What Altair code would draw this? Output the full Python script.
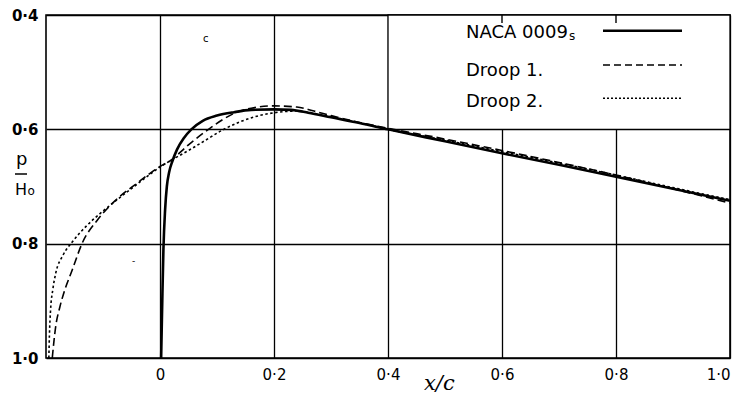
import altair as alt
import pandas as pd

# ---- data ----
naca_x = [0.002, 0.003, 0.004, 0.006, 0.009, 0.012, 0.016, 0.022, 0.030, 0.042, 0.055, 0.075,
          0.10, 0.13, 0.16, 0.20, 0.23, 0.26, 0.30, 0.35, 0.40, 0.50, 0.60, 0.70, 0.80, 0.90, 1.00]
naca_y = [1.000, 0.950, 0.900, 0.810, 0.740, 0.700, 0.675, 0.655, 0.635, 0.615, 0.600, 0.585,
          0.576, 0.570, 0.566, 0.565, 0.566, 0.571, 0.579, 0.589, 0.600, 0.621, 0.642, 0.662, 0.683, 0.704, 0.725]

droop1_x = [-0.189, -0.186, -0.183, -0.176, -0.169, -0.154, -0.136, -0.110, -0.080, -0.040, 0.000, 0.018,
            0.050, 0.085, 0.110, 0.130, 0.160, 0.200, 0.240, 0.270, 0.300, 0.350, 0.400, 0.500, 0.600,
            0.700, 0.800, 0.900, 1.000]
droop1_y = [1.000, 0.970, 0.945, 0.912, 0.887, 0.846, 0.798, 0.759, 0.726, 0.694, 0.665, 0.655,
            0.627, 0.600, 0.583, 0.572, 0.563, 0.559, 0.561, 0.568, 0.576, 0.588, 0.598, 0.617, 0.637,
            0.658, 0.680, 0.704, 0.729]

droop2_x = [-0.195, -0.194, -0.192, -0.188, -0.183, -0.170, -0.154, -0.128, -0.100, -0.070, -0.035, 0.000,
            0.018, 0.050, 0.080, 0.110, 0.140, 0.170, 0.200, 0.240, 0.280, 0.320, 0.360, 0.400, 0.500,
            0.600, 0.700, 0.800, 0.900, 1.000]
droop2_y = [1.000, 0.960, 0.916, 0.880, 0.852, 0.820, 0.797, 0.768, 0.743, 0.719, 0.692, 0.666,
            0.655, 0.637, 0.619, 0.601, 0.587, 0.577, 0.571, 0.568, 0.574, 0.582, 0.591, 0.600, 0.619,
            0.639, 0.659, 0.680, 0.702, 0.723]

x_ticks = [0, 0.2, 0.4, 0.6, 0.8, 1.0]
y_ticks = [0.4, 0.6, 0.8, 1.0]
legend_names = ["NACA 0009", "Droop 1.", "Droop 2."]
top_ticks = [0.6, 0.8]

W, H = 684, 343
FONT = "DejaVu Sans"

xscale = alt.Scale(domain=[-0.2, 1.0], nice=False, zero=False)
yscale = alt.Scale(domain=[0.4, 1.0], reverse=True, nice=False, zero=False)

x_axis = alt.Axis(values=x_ticks, grid=True, gridColor="black", gridWidth=1.3, gridOpacity=1,
                  domain=False, ticks=False, title=None,
                  labelExpr="datum.value == 0 ? '0' : replace(format(datum.value, '.1f'), '.', '·')",
                  labelFont=FONT, labelFontSize=15, labelColor="black", labelPadding=9)
y_axis = alt.Axis(values=y_ticks, grid=True, gridColor="black", gridWidth=1.3, gridOpacity=1,
                  domain=False, ticks=False, title=None,
                  labelExpr="replace(format(datum.value, '.1f'), '.', '·')",
                  labelFont=FONT, labelFontSize=15, labelFontWeight="bold", labelColor="black",
                  labelPadding=8)


def X(field="x"):
    return alt.X(f"{field}:Q", scale=xscale, axis=x_axis)


def Y(field="y"):
    return alt.Y(f"{field}:Q", scale=yscale, axis=y_axis)


def series_df(xs, ys):
    return pd.DataFrame({"x": xs, "y": ys, "i": list(range(len(xs)))})


def curve(xs, ys, width, dash=None):
    kw = dict(color="black", strokeWidth=width, interpolate="monotone", clip=True)
    if dash:
        kw["strokeDash"] = dash
    return alt.Chart(series_df(xs, ys)).mark_line(**kw).encode(x=X(), y=Y(), order="i:Q")


# white box behind the legend (hides the gridlines there)
box_df = pd.DataFrame({"x": [0.4], "x2": [1.0], "y": [0.4], "y2": [0.6]})
box = alt.Chart(box_df).mark_rect(fill="white", stroke="black", strokeWidth=1.3).encode(
    x=X(), x2="x2:Q", y=Y(), y2="y2:Q")

tick_df = pd.DataFrame({"x": top_ticks, "y": [0.4] * 2, "y2": [0.414] * 2})
ticks = alt.Chart(tick_df).mark_rule(color="black", strokeWidth=1.4).encode(
    x=X(), y=Y(), y2="y2:Q")

layers = [box, ticks,
          curve(droop2_x, droop2_y, 1.6, [2.5, 2.5]),
          curve(droop1_x, droop1_y, 1.6, [8, 4]),
          curve(naca_x, naca_y, 2.6)]

# ---- manual legend ----
leg_text_y = [23.3, 61, 91.7]
leg_line_y = [15.7, 50, 83.3]
leg_dash = [None, [7, 4], [2, 2]]
leg_width = [2.4, 1.5, 1.5]
for name, ty, ly, dash, w in zip(legend_names, leg_text_y, leg_line_y, leg_dash, leg_width):
    layers.append(alt.Chart(pd.DataFrame({"t": [name]})).mark_text(
        align="left", baseline="alphabetic", font=FONT, fontSize=18, color="black").encode(
        x=alt.value(420), y=alt.value(ty), text="t:N"))
    kw = dict(color="black", strokeWidth=w)
    if dash:
        kw["strokeDash"] = dash
    layers.append(alt.Chart(pd.DataFrame({"t": [name]})).mark_rule(**kw).encode(
        x=alt.value(557), x2=alt.value(636), y=alt.value(ly)))


def label(text, x, y, size, **kw):
    opts = dict(align="left", baseline="alphabetic", font=FONT, fontSize=size, color="black")
    opts.update(kw)
    return alt.Chart(pd.DataFrame({"t": [text]})).mark_text(**opts).encode(
        x=alt.value(x), y=alt.value(y), text="t:N")


layers += [
    label("s", 523, 25, 12),                       # subscript of NACA 0009s
    label("p", -30, 150, 18),                      # p / H0 axis title
    label("H", -31, 180, 16),
    label("o", -18.5, 180, 12),
    label("x/c", 378, 375, 21, font="DejaVu Serif", fontStyle="italic"),
    label("c", 157, 27, 10),                       # scan specks
    label("-", 86, 249, 9),
]
layers.append(alt.Chart(pd.DataFrame({"t": ["bar"]})).mark_rule(color="black", strokeWidth=1.5).encode(
    x=alt.value(-31), x2=alt.value(-19), y=alt.value(159)))

chart = alt.layer(*layers).properties(
    width=W, height=H,
    padding={"left": 46, "top": 15, "right": 11, "bottom": 38},
    autosize=alt.AutoSizeParams(type="none"),
    background="white",
).configure_view(stroke="black", strokeWidth=1.6)

chart.save("out.html", embed_options={"renderer": "svg", "actions": False})
